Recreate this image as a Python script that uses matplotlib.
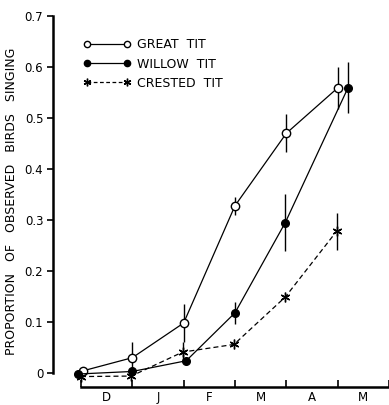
import numpy as np
import matplotlib.pyplot as plt
from matplotlib.lines import Line2D

plt.rcParams['font.family'] = ['Liberation Sans Narrow', 'DejaVu Sans']

# months, ticks at month boundaries
months = ['D', 'J', 'F', 'M', 'A', 'M']

# Great tit
x_great = [0.03, 1.0, 2.0, 3.0, 4.0, 5.0]
y_great = [0.004, 0.03, 0.098, 0.328, 0.47, 0.559]
e_great = [0.0, 0.03, 0.037, 0.018, 0.037, 0.041]

# Willow tit
x_willow = [-0.06, 1.0, 2.05, 3.0, 3.98, 5.2]
y_willow = [-0.002, 0.003, 0.024, 0.118, 0.295, 0.559]
e_willow = [0.0, 0.0, 0.0, 0.021, 0.056, 0.05]

# Crested tit
x_crested = [0.0, 0.98, 1.98, 2.98, 3.98, 4.98]
y_crested = [-0.007, -0.006, 0.041, 0.056, 0.149, 0.278]
e_crested = [0.0, 0.0, 0.02, 0.0, 0.0, 0.036]

fig = plt.figure(figsize=(3.89, 4.05), dpi=100)
W, H = 389, 405
# axes in pixels: left 53, right 389, top 16, bottom 387
ax = fig.add_axes([53 / W, 1 - 387 / H, (389 - 53) / W, (387 - 16) / H])

ax.errorbar(x_great, y_great, yerr=e_great, fmt='-o', color='black', mfc='white',
            mec='black', ms=6, lw=0.9, elinewidth=1, capsize=0, zorder=3)
ax.errorbar(x_willow, y_willow, yerr=e_willow, fmt='-o', color='black', mfc='black',
            ms=5.5, lw=0.9, elinewidth=1, capsize=0, zorder=3)
ax.errorbar(x_crested, y_crested, yerr=e_crested, fmt='--', marker=(6, 2, 0), color='black',
            ms=7, lw=0.9, elinewidth=1, capsize=0, dashes=(4, 2.5), zorder=3)

ax.set_xlim(-0.545, 6.0)
ax.set_ylim(-14 / 510, 0.7)

ax.spines['top'].set_visible(False)
ax.spines['right'].set_visible(False)
ax.spines['left'].set_bounds(0, 0.7)
ax.spines['bottom'].set_bounds(0, 6)
ax.spines['left'].set_linewidth(1.8)
ax.spines['bottom'].set_linewidth(1.8)

ax.set_yticks(np.arange(0, 0.71, 0.1))
ax.set_yticklabels(['0', '0.1', '0.2', '0.3', '0.4', '0.5', '0.6', '0.7'], fontsize=8.5)
ax.tick_params(axis='y', direction='out', length=4, width=1.2, pad=3)

ax.set_xticks(range(7))
ax.set_xticklabels([])
ax.set_xticks(np.arange(0.5, 6, 1), minor=True)
ax.set_xticklabels(months, minor=True, fontsize=8.5)
ax.tick_params(axis='x', which='major', direction='in', length=5, width=1.2)
ax.tick_params(axis='x', which='minor', length=0, pad=3)

ax.set_ylabel('PROPORTION   OF   OBSERVED   BIRDS   SINGING', fontsize=9, labelpad=5)

handles = [
    Line2D([], [], color='black', lw=0.9, marker='o', mfc='white', ms=4.5),
    Line2D([], [], color='black', lw=0.9, marker='o', mfc='black', ms=4.5),
    Line2D([], [], color='black', lw=0.9, marker=(6, 2, 0), ms=5.5, ls='--', dashes=(3, 2)),
]
labels = ['GREAT  TIT', 'WILLOW  TIT', 'CRESTED  TIT']
ax.legend(handles, labels, loc='upper left', bbox_to_anchor=(72 / W, 1 - 27 / H),
          bbox_transform=fig.transFigure, frameon=False, numpoints=2,
          handlelength=3.8, fontsize=9, labelspacing=0.5, handletextpad=0.5)

fig.savefig('out.png', dpi=100)
